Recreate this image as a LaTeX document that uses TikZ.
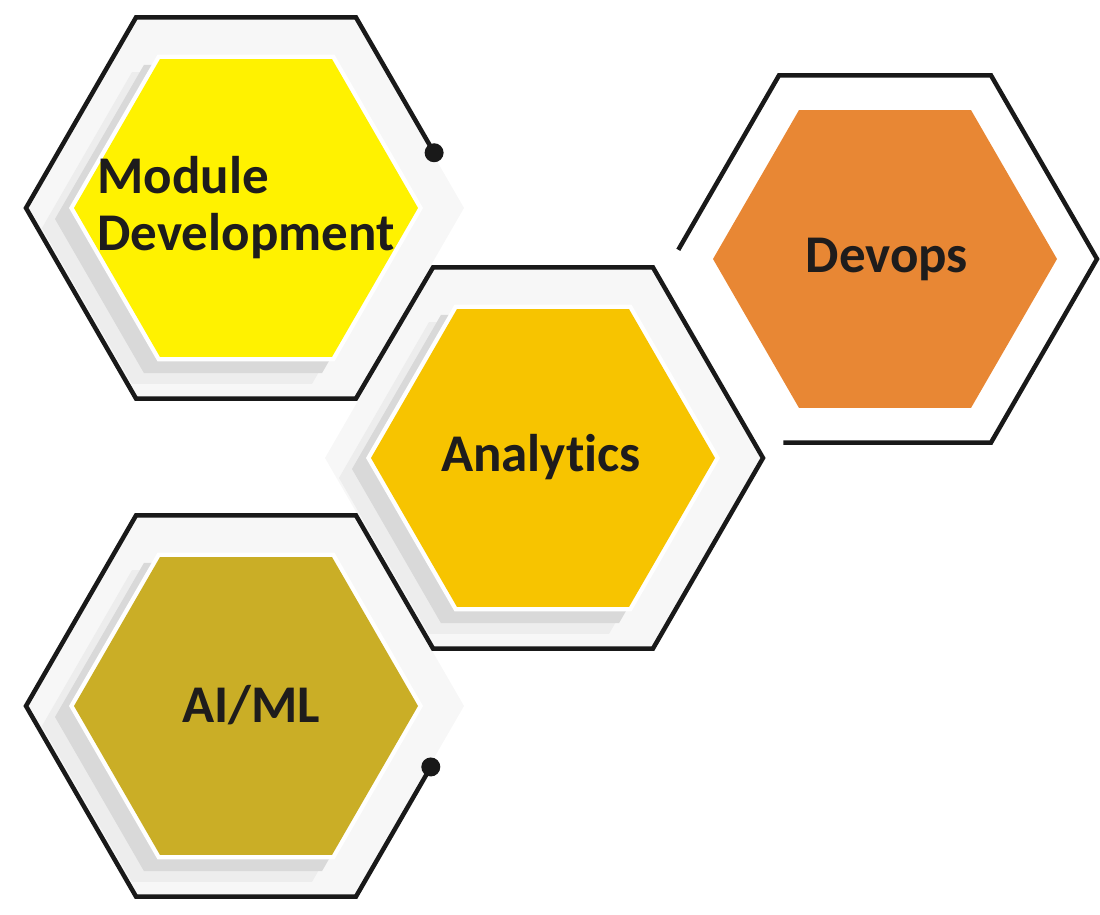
\documentclass[tikz,border=0pt]{standalone}
\usepackage{fontspec}
\setmainfont{Carlito}[Ligatures=NoCommon]
\usetikzlibrary{calc}
\definecolor{mdyellow}{RGB}{255,242,0}
\definecolor{angold}{RGB}{247,196,0}
\definecolor{dvorange}{RGB}{232,135,52}
\definecolor{aiolive}{RGB}{202,174,38}
\definecolor{inkdark}{RGB}{30,28,28}
\newcommand{\hexat}[2]{($(#1)+(0:#2)$) -- ($(#1)+(60:#2)$) -- ($(#1)+(120:#2)$) -- ($(#1)+(180:#2)$) -- ($(#1)+(240:#2)$) -- ($(#1)+(300:#2)$) -- cycle}
\tikzset{
  hexline/.style={line width=4.5pt, draw=black!90},
  hexlabel/.style={font=\fontsize{53}{57}\selectfont\bfseries, text=inkdark, inner sep=0pt},
}

\begin{document}
\begin{tikzpicture}[x=1pt, y=1pt]
\useasboundingbox (0,0) rectangle (1100,915);

% centres
\coordinate (md) at (246,707);
\coordinate (an) at (543,457);
\coordinate (ai) at (246,209);
\coordinate (dv) at (885,656);

% outer corners
\foreach \h in {md,an,ai}
  \foreach \k/\a in {1/0,2/60,3/120,4/180,5/240,6/300}
    \coordinate (\h-\k) at ($(\h)+(\a:220)$);
\foreach \k/\a in {1/0,2/60,3/120,4/180,5/240,6/300}
  \coordinate (dv-\k) at ($(dv)+(\a:212)$);

% plates and shadows
\foreach \h in {md,an,ai} {
  \fill[gray!6] \hexat{\h}{218};
  \coordinate (\h-sh) at ($(\h)+(-24,-20)$);
  \fill[gray!14] \hexat{\h-sh}{180};
  \coordinate (\h-sd) at ($(\h)+(-13,-11)$);
  \fill[gray!30] \hexat{\h-sd}{178};
  \fill[white] \hexat{\h}{177};
}

% coloured hexagons
\fill[mdyellow] \hexat{md}{172};
\fill[angold] \hexat{an}{172};
\fill[aiolive] \hexat{ai}{172};
\fill[dvorange] \hexat{dv}{172};

% outline chain with the two dots
\coordinate (md-dot) at ($(md-2)!0.71!(md-1)$);
\coordinate (ai-dot) at ($(ai-6)!0.68!(ai-1)$);
\draw[hexline] (ai-dot) -- (ai-6) -- (ai-5) -- (ai-4) -- (ai-3) -- (ai-2)
  -- (an-5) -- (an-6) -- (an-1) -- (an-2) -- (an-3)
  -- (md-6) -- (md-5) -- (md-4) -- (md-3) -- (md-2) -- (md-dot);
\fill[black!90] (md-dot) circle (9.5);
\fill[black!90] (ai-dot) circle (9.5);

% devops outline, open at the lower left
\coordinate (dv-start) at ($(dv-4)!0.05!(dv-3)$);
\coordinate (dv-end) at ($(dv-6)!0.98!(dv-5)$);
\draw[hexline] (dv-start) -- (dv-3) -- (dv-2) -- (dv-1) -- (dv-6) -- (dv-end);

% labels
\node[hexlabel, align=left] (mdtext) at (md) {Module\\Development};
\node[hexlabel, anchor=base] (antext) at (541,443) {Analytics};
\node[hexlabel, anchor=base] (dvtext) at (887,642) {Devops};
\node[hexlabel, anchor=base] (aitext) at (251,192) {AI/ML};

\end{tikzpicture}
\end{document}
